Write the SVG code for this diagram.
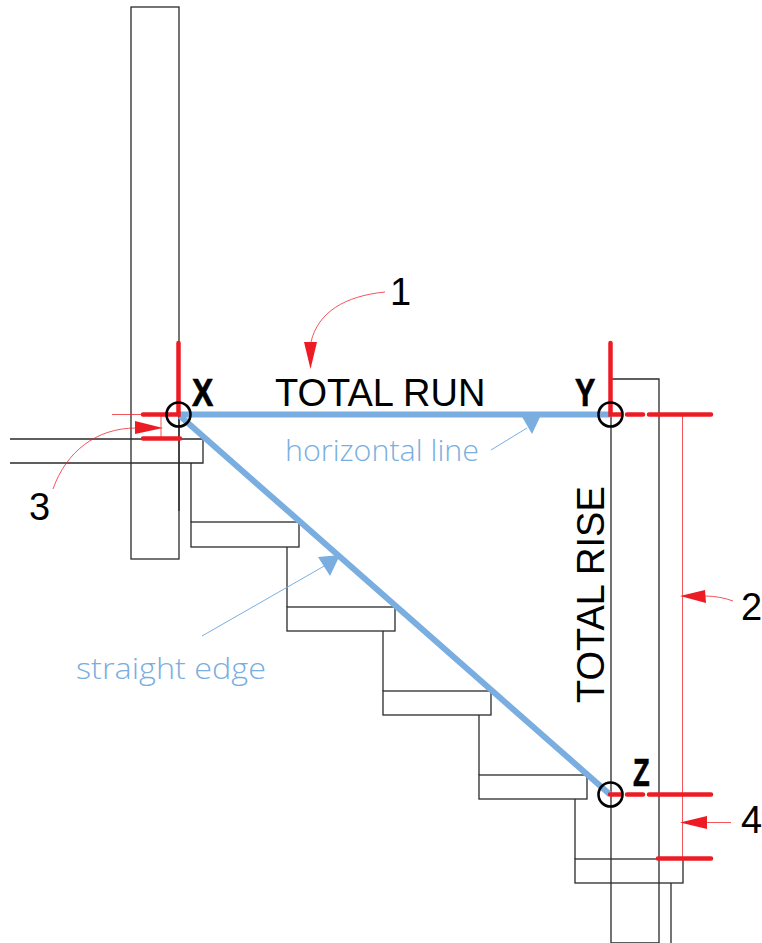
<svg xmlns="http://www.w3.org/2000/svg" width="762" height="943" viewBox="0 0 762 943">
<style>
.k{fill:none;stroke:#2a2a2a;stroke-width:1.3}
.r{fill:none;stroke:#ed1c24;stroke-width:4.5;stroke-linecap:round}
.t{fill:none;stroke:#ed1c24;stroke-width:1;opacity:.75}
.b{fill:none;stroke:#7aaee0;stroke-width:6}
.bt{fill:none;stroke:#7aaee0;stroke-width:1}
.c{fill:none;stroke:#000;stroke-width:2.600}
.ra{fill:#ed1c24}
.ba{fill:#7aaee0}
text{font-family:"Liberation Sans",Arial,sans-serif;fill:#000}
.n{font-size:38px}
.l{font-size:38px}
.p{font-size:38px;font-weight:bold;stroke:#000;stroke-width:.7}
.h{font-size:30px;fill:#7aaee0;font-family:"Open Sans","Liberation Sans",sans-serif;font-weight:300}
</style>
<rect width="762" height="943" fill="#fff"/>
<g id="structure">
<rect class="k" x="131" y="7" width="48" height="552"/>
<path class="k" d="M179 414V511"/>
<path class="k" d="M611 414V943H659V379H611V414M10 439H203V463H10M191 463V522"/>
<rect class="k" x="191" y="522" width="108" height="25"/>
<path class="k" d="M287 547V607"/>
<rect class="k" x="287" y="607" width="108" height="24"/>
<path class="k" d="M383 631V691"/>
<rect class="k" x="383" y="691" width="108" height="24"/>
<path class="k" d="M479 715V775"/>
<rect class="k" x="479" y="775" width="108" height="24"/>
<path class="k" d="M575 799V859"/>
<rect class="k" x="575" y="859" width="108" height="24"/>
<path class="k" d="M671 883V943"/>
</g>
<g id="connectors">
<path class="b" d="M180 414.500H611"/>
<path class="b" d="M180 416L610 794.500"/>
<path class="bt" d="M491 450L527 428"/>
<polygon class="ba" points="521,415 541,415 532,434"/>
<path class="bt" d="M202 636L326 565"/>
<polygon class="ba" points="318,557 340,555 330,576"/>
<path class="r" d="M178.500 343V414.500H143M143 438.500H180"/>
<path class="t" d="M112 414.500H143M161 415V438"/>
<path class="r" d="M610.500 343V414.500H621M627 414.500H643M649 414.500H711"/>
<path class="r" d="M610 794.500H621M627 794.500H643M649 794.500H711M658 858.500H711"/>
<path class="t" d="M682.500 414V859"/>
<path class="t" d="M731 822.500H707"/>
<polygon class="ra" points="680,822.500 707,816 707,829"/>
<path class="t" d="M733 601C725 598 715 596 705 596"/>
<polygon class="ra" points="680,596 705,590 706,603"/>
<path class="t" d="M385 292C345 296 318 312 311 342"/>
<polygon class="ra" points="310.500,369 304,342 317,342"/>
<path class="t" d="M53 489C66 452 96 428 136 428"/>
<polygon class="ra" points="163,428 135,421 135,434"/>
</g>
<g id="node-x"><circle class="c" cx="178.500" cy="414.500" r="12"/><text class="p" transform="translate(192,406) scale(.84,1)">X</text></g>
<g id="node-y"><circle class="c" cx="610.500" cy="414.500" r="12"/><text class="p" transform="translate(575,406) scale(.8,1)">Y</text></g>
<g id="node-z"><circle class="c" cx="610.500" cy="794.500" r="12"/><text class="p" transform="translate(633,786) scale(.72,1)">Z</text></g>
<g id="labels">
<text class="l" x="275" y="406">TOTAL RUN</text>
<text class="l" transform="translate(604,703) rotate(-90)">TOTAL RISE</text>
<text class="h" x="285" y="461" textLength="194" lengthAdjust="spacingAndGlyphs">horizontal line</text>
<text class="h" x="76" y="679" textLength="190" lengthAdjust="spacingAndGlyphs">straight edge</text>
<text class="n" x="390" y="305">1</text>
<text class="n" x="741" y="620">2</text>
<text class="n" x="29" y="520">3</text>
<text class="n" x="741" y="833">4</text>
</g>
</svg>
